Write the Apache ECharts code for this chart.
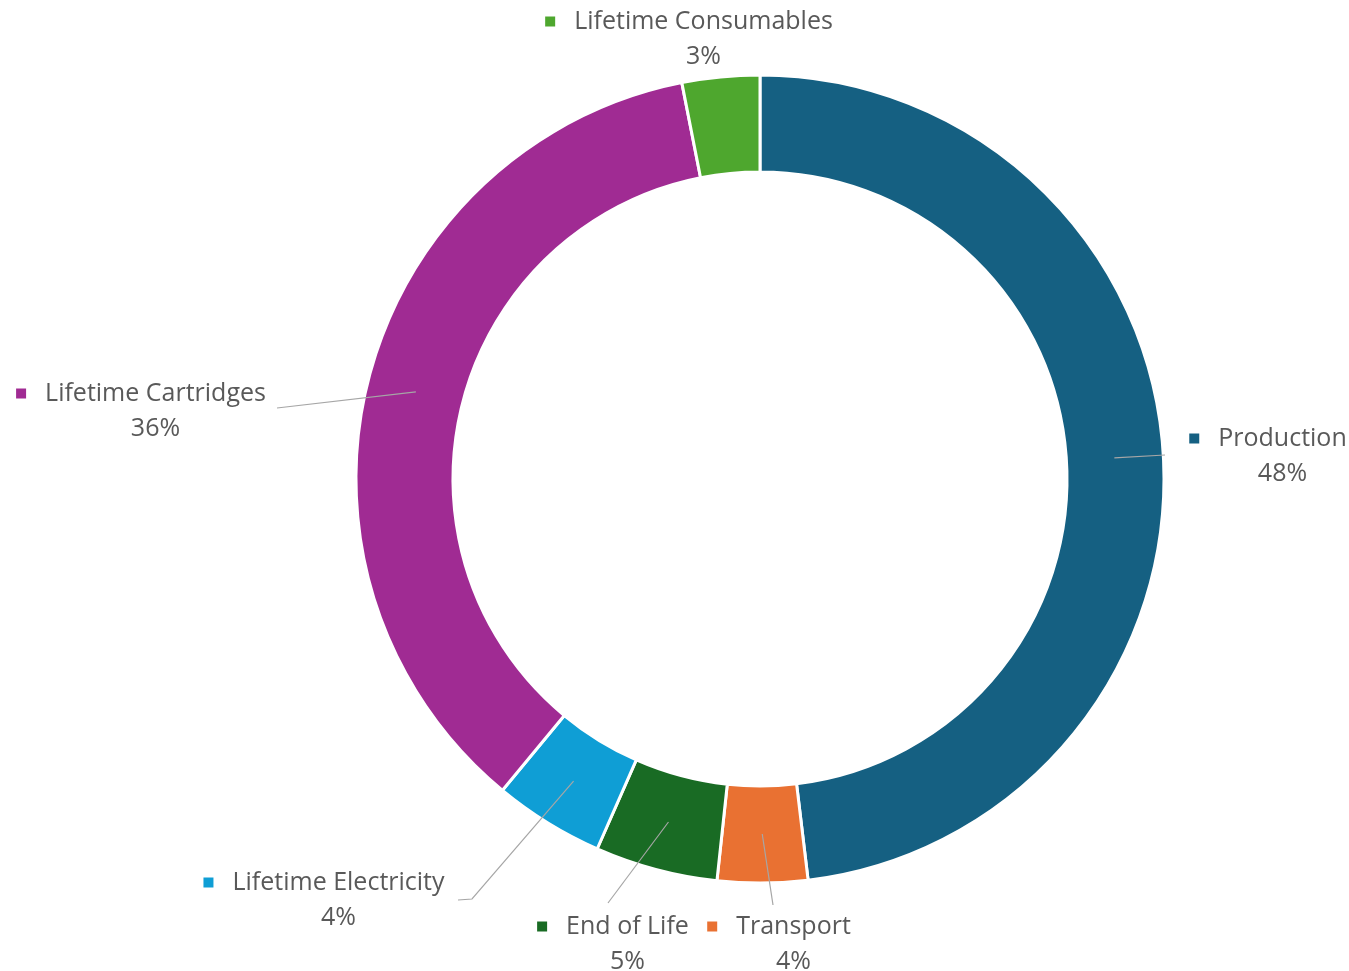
<!DOCTYPE html>
<html>
<head>
<meta charset="utf-8">
<script src="https://cdn.jsdelivr.net/npm/echarts@6/dist/echarts.min.js"></script>
<style>
html,body{margin:0;padding:0;background:#fff;}
#chart{width:1349px;height:971px;}
</style>
</head>
<body>
<div id="chart"></div>
<script>
const categories = ['Production', 'Transport', 'End of Life', 'Lifetime Electricity', 'Lifetime Cartridges', 'Lifetime Consumables'];
const values = [48.1, 3.6, 4.9, 4.4, 35.9, 3.1];
const colors = ['#156082', '#E97132', '#196B24', '#0F9ED5', '#A02B93', '#4EA72E'];

// label placement (layout only)
const labelPlacement = [
  { x: 1268, y: 456, line: [[1165, 455]] },
  { x: 779, y: 944, line: [[773, 905]] },
  { x: 613, y: 944, line: [[608, 903]] },
  { x: 324, y: 900, line: [[472, 899], [458, 900]] },
  { x: 141, y: 411, line: [[277, 408]] },
  { x: 689, y: 39, line: null }
];

const CX = 760, CY = 479, R_IN = 307, R_OUT = 404, R_MID = 355;
const FONT = '"Open Sans", sans-serif';
const TEXT_COLOR = '#595959';
const FS = 25;

const rich = {
  n: { fontSize: FS, color: TEXT_COLOR, fontFamily: FONT, lineHeight: 35 },
  p: { fontSize: FS, color: TEXT_COLOR, fontFamily: FONT, lineHeight: 35, padding: [0, 0, 0, 29] },
  sp: { width: 19, lineHeight: 35 }
};
colors.forEach((c, i) => {
  rich['m' + i] = { width: 10, height: 10, backgroundColor: c, lineHeight: 35 };
});

const ringData = categories.map((name, i) => ({ name: name, value: values[i], itemStyle: { color: colors[i] } }));
const labelData = categories.map((name, i) => {
  const item = { name: name, value: values[i] };
  if (!labelPlacement[i].line) item.labelLine = { show: false };
  return item;
});

const chart = echarts.init(document.getElementById('chart'));
chart.setOption({
  backgroundColor: '#ffffff',
  animation: false,
  series: [{
    type: 'pie',
    z: 2,
    center: [CX, CY],
    radius: [R_IN, R_OUT],
    startAngle: 90,
    clockwise: true,
    silent: true,
    itemStyle: { borderColor: '#ffffff', borderWidth: 3 },
    label: { show: false },
    labelLine: { show: false },
    data: ringData
  }, {
    type: 'pie',
    z: 5,
    center: [CX, CY],
    radius: [R_IN, R_OUT],
    startAngle: 90,
    clockwise: true,
    silent: true,
    avoidLabelOverlap: false,
    itemStyle: { color: 'rgba(0,0,0,0)', borderWidth: 0 },
    label: {
      show: true,
      position: 'outside',
      alignTo: 'none',
      formatter: function (p) {
        return '{m' + p.dataIndex + '|}{sp|}{n|' + p.name + '}\n{p|' + Math.round(p.percent) + '%}';
      },
      rich: rich
    },
    labelLine: {
      show: true,
      showAbove: true,
      length: 10,
      length2: 10,
      lineStyle: { color: '#a6a6a6', width: 1.2 }
    },
    labelLayout: function (params) {
      const cfg = labelPlacement[params.dataIndex];
      const res = { x: cfg.x, y: cfg.y, align: 'center', verticalAlign: 'middle' };
      if (cfg.line && params.labelLinePoints && params.labelLinePoints.length) {
        const p0 = params.labelLinePoints[0];
        const dx = p0[0] - CX, dy = p0[1] - CY;
        const len = Math.sqrt(dx * dx + dy * dy) || 1;
        const start = [CX + dx / len * R_MID, CY + dy / len * R_MID];
        res.labelLinePoints = [start].concat(cfg.line);
      }
      return res;
    },
    data: labelData
  }]
});
</script>
</body>
</html>
